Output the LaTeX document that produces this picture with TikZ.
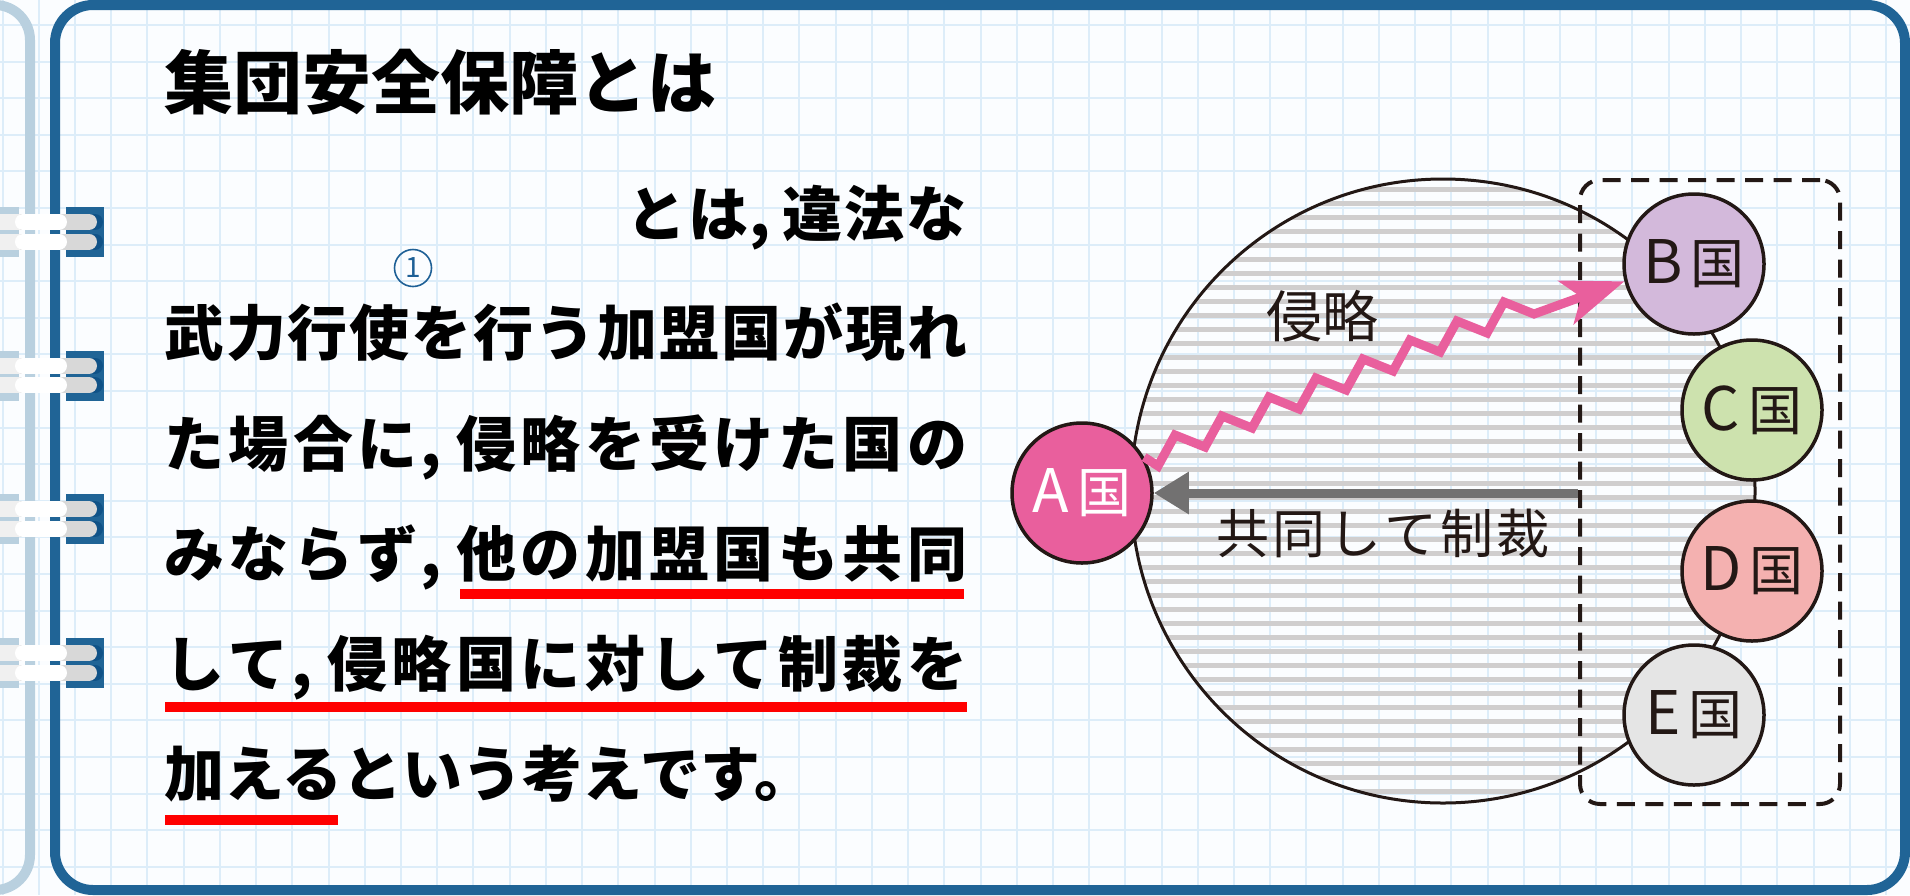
\documentclass[tikz,border=0pt]{standalone}
\usepackage{fontspec}
\newfontfamily\jp{Noto Sans CJK JP}
\usetikzlibrary{arrows.meta}
\definecolor{frameblue}{RGB}{32,100,150}
\definecolor{lightframe}{RGB}{185,208,223}
\definecolor{gridblue}{RGB}{221,237,249}
\definecolor{bgwhite}{RGB}{251,253,255}
\definecolor{pinkA}{RGB}{233,95,157}
\definecolor{purpleB}{RGB}{211,185,219}
\definecolor{greenC}{RGB}{205,226,174}
\definecolor{salmonD}{RGB}{244,177,176}
\definecolor{grayE}{RGB}{229,229,229}
\definecolor{inkc}{RGB}{35,24,21}
\definecolor{stripec}{RGB}{208,206,206}
\definecolor{arrowgray}{RGB}{114,113,113}
\definecolor{numblue}{RGB}{30,96,150}
\definecolor{pillgray}{RGB}{216,216,216}
\definecolor{pilllight}{RGB}{240,240,240}
\definecolor{shadowblue}{RGB}{16,82,135}
\definecolor{redline}{RGB}{255,0,0}
\makeatletter
\def\sp@sep{\hskip 0pt plus 1fil minus 1fil}
\def\sp@loop#1#2\@nil{#1\ifx\relax#2\relax\else\sp@sep\sp@loop#2\@nil\fi}
\newcommand\spreadbox[2]{\makebox[#1][s]{\sp@loop#2\@nil}}
\makeatother
\newcommand\halfcomma{\makebox[0.5em][l]{\kern-0.02em,}}
\newcommand\cname[1]{{\fontsize{60}{60}\selectfont #1}\kern8pt{\fontsize{54}{54}\selectfont 国}}
\begin{document}
\begin{tikzpicture}[x=1pt,y=-1pt,
  gridline/.style={draw=gridblue,line width=2pt},
  country/.style={circle,draw=inkc,line width=3.5pt,minimum size=140pt,inner sep=0pt,text=inkc,font=\jp},
  bodyline/.style={anchor=base west,inner sep=0pt,font=\jp\bfseries\fontsize{60}{60}\selectfont},
  underl/.style={draw=redline,line width=10pt},
  label/.style={inner sep=0pt,text=inkc}]
\useasboundingbox (0,0) rectangle (1910,895);
\fill[bgwhite] (0,0) rectangle (1910,895);
% grid
\foreach \k in {-2,...,50} \draw[gridline] ({75+36.22*\k},0) -- ({75+36.22*\k},895);
\foreach \k in {0,...,23} \draw[gridline] (0,{25+36.6*\k}) -- (1910,{25+36.6*\k});
% frames
\draw[lightframe,line width=10pt,rounded corners=35pt] (-60,5) -- (30,5) -- (30,890) -- (-60,890);
\draw[frameblue,line width=10pt,rounded corners=38pt] (55,5) rectangle (1905,890);
% binder tabs
\foreach \c in {232,375.7,519.4,663.1} {
  \fill[lightframe] (0,\c-25) rectangle (19,\c+25);
  \fill[frameblue] (66,\c-25) rectangle (104,\c+25);
  \foreach \p in {-10,9.5} {
    \draw[shadowblue,line width=16pt,line cap=round] (70,\c+\p) -- (95,\c+\p);
    \draw[pillgray,line width=16pt,line cap=round] (-20,\c+\p) -- (89,\c+\p);
    \fill[pilllight] (-5,\c+\p-8) rectangle (20,\c+\p+8);
    \draw[white,line width=16pt,line cap=round] (23,\c+\p) -- (59,\c+\p);
  }
}
% title
\node[anchor=base west,inner sep=0pt,font=\jp\bfseries\fontsize{69}{69}\selectfont] (title) at (164,108) {集団安全保障とは};
% body text
\node[bodyline,anchor=base east] (l1) at (967,236) {\spreadbox{340pt}{とは\halfcomma 違法な}};
\node[circle,draw=numblue,line width=1.6pt,minimum size=37pt,inner sep=0pt,text=numblue,font=\jp\fontsize{28}{28}\selectfont] (num1) at (413,268) {1};
\node[bodyline] (l2) at (164,355) {\spreadbox{803pt}{武力行使を行う加盟国が現れ}};
\node[bodyline] (l3) at (164,466) {\spreadbox{803pt}{た場合に\halfcomma 侵略を受けた国の}};
\node[bodyline] (l4) at (164,576) {\spreadbox{803pt}{みならず\halfcomma 他の加盟国も共同}};
\node[bodyline] (l5) at (164,686) {\spreadbox{803pt}{して\halfcomma 侵略国に対して制裁を}};
\node[bodyline] (l6) at (164,796) {加えるという考えです。};
% underlines
\draw[underl] (460,594) -- (964,594);
\draw[underl] (165,707) -- (967,707);
\draw[underl] (165,820) -- (338,820);
% big circle with stripes
\begin{scope}
  \clip (1443,491) circle[radius=312pt];
  \foreach \k in {-7,...,38} \fill[stripec] (1120,{273.3+14*\k-2.3}) rectangle (1760,{273.3+14*\k+2.3});
\end{scope}
\node[circle,draw=inkc,line width=3pt,minimum size=624pt,inner sep=0pt] (world) at (1443,491) {};
% dashed group box
\node[draw=inkc,line width=4pt,dash pattern=on 18pt off 10.5pt,rounded corners=20pt,minimum width=260pt,minimum height=624pt,inner sep=0pt] (grp) at (1710,492) {};
% countries
\node[country,fill=pinkA,text=white] (A) at (1082,493) {\cname{A}};
\node[country,fill=purpleB] (B) at (1694,264) {\cname{B}};
\node[country,fill=greenC] (C) at (1752,410) {\cname{C}};
\node[country,fill=salmonD] (D) at (1752,571) {\cname{D}};
\node[country,fill=grayE] (E) at (1694,715) {\cname{E}};
% arrows
\draw[arrowgray,line width=9pt,-{Triangle[length=35pt,width=40pt]}] (grp.west |- A.east) -- (A.east);
\draw[pinkA,line width=9pt,line join=miter,-{Stealth[length=62pt,width=46pt,inset=16pt]}] (A.30) -- (1158,466) \foreach \i in {1,...,8} { -- ++(17,-31) -- ++(30,12) } -- (B.194);
% labels
\node[label,font=\jp\fontsize{56}{56}\selectfont] (inv) at (1322,316) {侵略};
\node[label,font=\jp\fontsize{53}{53}\selectfont] (sanc) at (1383,533) {\spreadbox{334pt}{共同して制裁}};
\end{tikzpicture}
\end{document}
